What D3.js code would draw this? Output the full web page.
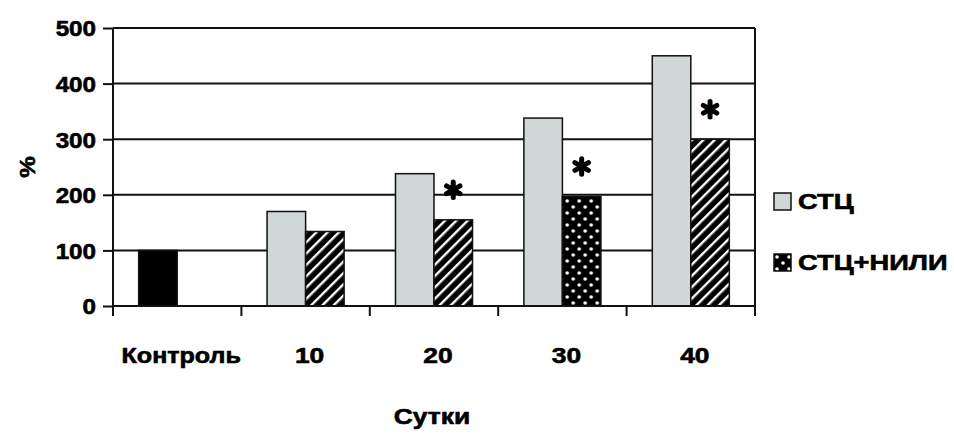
<!DOCTYPE html>
<html>
<head>
<meta charset="utf-8">
<script src="https://cdn.jsdelivr.net/npm/d3@7"></script>
<style>
  body { margin: 0; background: #fff; }
  svg { display: block; }
  text { font-family: 'Liberation Sans', Arial, sans-serif; font-weight: bold; fill: #000; stroke: #000; stroke-width: 0.6px; }
</style>
</head>
<body>
<svg id="chart" width="954" height="435"></svg>
<script>
// data
const categories = ['Контроль', '10', '20', '30', '40']
const series = ['СТЦ', 'СТЦ+НИЛИ']
const stcValues = [100, 170, 238, 338, 450]
const stcNiliValues = [null, 134, 155, 197, 300]
const starred = [false, false, true, true, true]
const niliFill = [null, 'hatch', 'hatch', 'dots', 'hatch']
const yTicks = [0, 100, 200, 300, 400, 500]

const width = 954
const height = 435
const margin = { top: 28, right: 199, bottom: 129, left: 113 }
const fs = 22
const sxNum = 1.1 // reference text is drawn wide
const sxWord = 1.2

const svg = d3.select('#chart')

// fill patterns
const defs = svg.append('defs')
const hatch = defs.append('pattern')
  .attr('id', 'hatch')
  .attr('patternUnits', 'userSpaceOnUse')
  .attr('width', 8).attr('height', 8)
  .attr('patternTransform', 'rotate(45)')
hatch.append('rect').attr('width', 8).attr('height', 8).attr('fill', '#000')
hatch.append('rect').attr('x', 0).attr('width', 2.4).attr('height', 8).attr('fill', '#fff')

const dots = defs.append('pattern')
  .attr('id', 'dots')
  .attr('patternUnits', 'userSpaceOnUse')
  .attr('width', 12).attr('height', 12)
dots.append('rect').attr('width', 12).attr('height', 12).attr('fill', '#000')
dots.append('circle').attr('cx', 3).attr('cy', 3).attr('r', 1.8).attr('fill', '#fff')
dots.append('circle').attr('cx', 9).attr('cy', 9).attr('r', 1.8).attr('fill', '#fff')

const x = d3.scaleBand()
  .domain(categories)
  .range([margin.left, width - margin.right])

const x1 = d3.scaleBand()
  .domain(series)
  .range([x.bandwidth() * 0.2, x.bandwidth() * 0.8])

const y = d3.scaleLinear()
  .domain([0, 500])
  .range([height - margin.bottom, margin.top])

// gridlines
svg.append('g')
  .selectAll('line')
  .data(yTicks.filter((d) => d > 0))
  .join('line')
  .attr('x1', margin.left)
  .attr('x2', width - margin.right)
  .attr('y1', (d) => y(d))
  .attr('y2', (d) => y(d))
  .attr('stroke', '#111')
  .attr('stroke-width', 2)

// right frame
svg.append('line')
  .attr('x1', width - margin.right).attr('x2', width - margin.right)
  .attr('y1', y(500)).attr('y2', y(0))
  .attr('stroke', '#111').attr('stroke-width', 2)

// bars
const groups = svg.append('g')
  .selectAll('g')
  .data(categories)
  .join('g')
  .attr('transform', (d) => `translate(${x(d)},0)`)

groups.append('rect')
  .attr('x', x1('СТЦ'))
  .attr('width', x1.bandwidth())
  .attr('y', (d, i) => y(stcValues[i]))
  .attr('height', (d, i) => y(0) - y(stcValues[i]))
  .attr('fill', (d, i) => (i === 0 ? '#000' : '#cfd7d7'))
  .attr('stroke', '#111')
  .attr('stroke-width', 1.5)

groups.filter((d, i) => stcNiliValues[i] != null)
  .append('rect')
  .attr('x', x1('СТЦ+НИЛИ'))
  .attr('width', x1.bandwidth())
  .attr('y', (d) => y(stcNiliValues[categories.indexOf(d)]))
  .attr('height', (d) => y(0) - y(stcNiliValues[categories.indexOf(d)]))
  .attr('fill', (d) => `url(#${niliFill[categories.indexOf(d)]})`)
  .attr('stroke', '#111')
  .attr('stroke-width', 1.5)

// significance stars
const star = d3.symbol(d3.symbolAsterisk, 170)
groups.filter((d, i) => starred[i])
  .append('path')
  .attr('d', star)
  .attr('transform', (d) => {
    const i = categories.indexOf(d)
    return `translate(${x1('СТЦ+НИЛИ') + x1.bandwidth() / 2},${y(stcNiliValues[i]) - 30})`
  })
  .attr('fill', 'none')
  .attr('stroke', '#000')
  .attr('stroke-width', 5)
  .attr('stroke-linecap', 'round')

// y axis
const yAxis = svg.append('g')
  .attr('transform', `translate(${margin.left},0)`)
  .call(d3.axisLeft(y).tickValues(yTicks).tickSize(10).tickPadding(0))
yAxis.select('.domain').attr('stroke', '#111').attr('stroke-width', 2).attr('d', `M0,${y(500)}V${y(0) + 10}`)
yAxis.selectAll('.tick line').attr('stroke', '#111').attr('stroke-width', 2)
yAxis.selectAll('.tick text')
  .attr('x', -17 / sxNum)
  .attr('dy', '0.36em')
  .attr('transform', `scale(${sxNum},1)`)
  .attr('font-size', fs)
  .attr('font-family', null)

// x axis line and boundary ticks
svg.append('line')
  .attr('x1', margin.left).attr('x2', width - margin.right)
  .attr('y1', y(0)).attr('y2', y(0))
  .attr('stroke', '#111').attr('stroke-width', 2)
svg.append('g')
  .selectAll('line')
  .data(categories.map((c) => x(c)).concat([width - margin.right]))
  .join('line')
  .attr('x1', (d) => d).attr('x2', (d) => d)
  .attr('y1', y(0)).attr('y2', y(0) + 10)
  .attr('stroke', '#111').attr('stroke-width', 2)

const xAxis = svg.append('g')
  .attr('transform', `translate(4,${y(0)})`)
  .call(d3.axisBottom(x).tickSize(0).tickPadding(0))
xAxis.select('.domain').remove()
xAxis.selectAll('.tick text')
  .attr('y', 57)
  .attr('dy', null)
  .attr('transform', (d) => `scale(${d === 'Контроль' ? 1.14 : sxWord},1)`)
  .attr('font-size', fs)
  .attr('font-family', null)

// axis titles
svg.append('text')
  .attr('transform', `translate(432,424) scale(${sxWord},1)`)
  .attr('text-anchor', 'middle')
  .attr('font-size', fs)
  .text('Сутки')

svg.append('text')
  .attr('transform', `translate(35,${(y(0) + y(500)) / 2}) rotate(-90) scale(1.1,1)`)
  .attr('text-anchor', 'middle')
  .attr('font-size', fs)
  .text('%')

// legend
const legend = svg.append('g')
  .selectAll('g')
  .data(series)
  .join('g')
  .attr('transform', (d, i) => `translate(774,${193 + i * 61})`)

legend.append('rect')
  .attr('width', 17).attr('height', 17)
  .attr('fill', (d, i) => (i === 0 ? '#cfd7d7' : 'url(#dots)'))
  .attr('stroke', '#111')
  .attr('stroke-width', 1.5)

legend.append('text')
  .attr('transform', `translate(24,16) scale(1.24,1)`)
  .attr('font-size', fs)
  .text((d) => d)
</script>
</body>
</html>
